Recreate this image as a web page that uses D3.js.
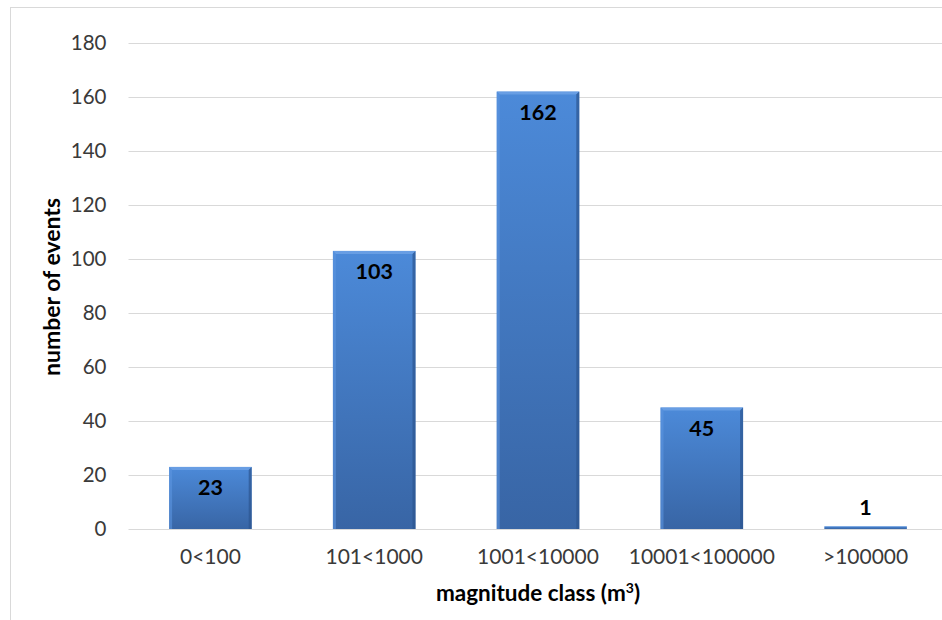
<!DOCTYPE html>
<html>
<head>
<meta charset="utf-8">
<script src="https://cdn.jsdelivr.net/npm/d3@7/dist/d3.min.js"></script>
<style>
  html, body { margin: 0; padding: 0; background: #fff; }
  svg { display: block; }
</style>
</head>
<body>
<div id="chart"></div>
<script>
// Landslide event counts by volume class
const categories = ["0<100", "101<1000", "1001<10000", "10001<100000", ">100000"];
const counts = [23, 103, 162, 45, 1];
const yTicks = [0, 20, 40, 60, 80, 100, 120, 140, 160, 180];

const W = 942, H = 620;
const margin = { left: 128.5, right: -5.5, top: 43, bottom: 91 };

const svg = d3.select("#chart").append("svg")
  .attr("width", W).attr("height", H);

const defs = svg.append("defs");
const grad = defs.append("linearGradient")
  .attr("id", "barFill").attr("x1", 0).attr("y1", 0).attr("x2", 0).attr("y2", 1);
grad.append("stop").attr("offset", "0%").attr("stop-color", "#4c8ad9");
grad.append("stop").attr("offset", "100%").attr("stop-color", "#3865a5");

// outer frame of the chart area
svg.append("rect")
  .attr("x", 10.5).attr("y", 7.5)
  .attr("width", W + 20).attr("height", H + 20)
  .attr("fill", "none").attr("stroke", "#d9d9d9").attr("stroke-width", 1);

const x = d3.scaleBand()
  .domain(categories)
  .range([margin.left, W - margin.right])
  .paddingInner(0.496).paddingOuter(0.248);

const y = d3.scaleLinear()
  .domain([0, 180])
  .range([H - margin.bottom, margin.top]);

// horizontal gridlines
svg.append("g")
  .selectAll("line")
  .data(yTicks)
  .join("line")
  .attr("x1", margin.left).attr("x2", W)
  .attr("y1", d => Math.round(y(d)) + 0.5)
  .attr("y2", d => Math.round(y(d)) + 0.5)
  .attr("stroke", "#d9d9d9").attr("stroke-width", 1.2);

// y axis tick labels
const yAxis = d3.axisLeft(y).tickValues(yTicks).tickSize(0).tickPadding(22);
const gy = svg.append("g")
  .attr("transform", `translate(${margin.left},0)`)
  .call(yAxis);
gy.select(".domain").remove();
gy.selectAll("text")
  .attr("font-family", "Lato, sans-serif")
  .attr("font-size", 20.5)
  .attr("fill", "#3a3a3a");

// x axis category labels
const xAxis = d3.axisBottom(x).tickSize(0).tickPadding(20);
const gx = svg.append("g")
  .attr("transform", `translate(0,${y(0)})`)
  .call(xAxis);
gx.select(".domain").remove();
gx.selectAll("text")
  .attr("font-family", "Lato, sans-serif")
  .attr("font-size", 21)
  .attr("fill", "#3a3a3a");

// bars with a soft bevel
const bars = svg.append("g").selectAll("g.bar")
  .data(categories.map((c, i) => ({ c, v: counts[i] })))
  .join("g").attr("class", "bar");

bars.append("rect")
  .attr("x", d => x(d.c))
  .attr("y", d => y(d.v))
  .attr("width", x.bandwidth())
  .attr("height", d => y(0) - y(d.v))
  .attr("fill", "url(#barFill)");

const bevel = 3;
// top highlight
bars.filter(d => y(0) - y(d.v) > 2 * bevel).append("path")
  .attr("d", d => {
    const x0 = x(d.c), x1 = x0 + x.bandwidth(), t = y(d.v);
    return `M${x0},${t}L${x1},${t}L${x1 - bevel},${t + bevel}L${x0 + bevel},${t + bevel}Z`;
  })
  .attr("fill", "#6fa3e6").attr("opacity", 0.8);
// left edge
bars.filter(d => y(0) - y(d.v) > 2 * bevel).append("path")
  .attr("d", d => {
    const x0 = x(d.c), t = y(d.v), b = y(0);
    return `M${x0},${t}L${x0 + bevel},${t + bevel}L${x0 + bevel},${b}L${x0},${b}Z`;
  })
  .attr("fill", "#5b95df").attr("opacity", 0.6);
// right edge
bars.filter(d => y(0) - y(d.v) > 2 * bevel).append("path")
  .attr("d", d => {
    const x1 = x(d.c) + x.bandwidth(), t = y(d.v), b = y(0);
    return `M${x1},${t}L${x1 - bevel},${t + bevel}L${x1 - bevel},${b}L${x1},${b}Z`;
  })
  .attr("fill", "#2c5590").attr("opacity", 0.7);

// value labels: inside the bar top, or above a bar too short to hold one
bars.append("text")
  .attr("x", d => x(d.c) + x.bandwidth() / 2)
  .attr("y", d => (y(0) - y(d.v) > 30) ? y(d.v) + 28 : y(d.v) - 11)
  .attr("text-anchor", "middle")
  .attr("font-family", "Lato, sans-serif")
  .attr("font-weight", "bold")
  .attr("font-size", 21.5)
  .attr("fill", "#000")
  .text(d => d.v);

// axis titles
svg.append("text")
  .attr("transform", `translate(60,287) rotate(-90)`)
  .attr("text-anchor", "middle")
  .attr("font-family", "Lato, sans-serif")
  .attr("font-weight", "bold")
  .attr("font-size", 23)
  .attr("fill", "#000")
  .text("number of events");

const xt = svg.append("text")
  .attr("x", 538).attr("y", 601)
  .attr("text-anchor", "middle")
  .attr("font-family", "Lato, sans-serif")
  .attr("font-weight", "bold")
  .attr("font-size", 22.5)
  .attr("fill", "#000");
xt.append("tspan").text("magnitude class (m");
xt.append("tspan").attr("font-size", 14).attr("dy", -8).text("3");
xt.append("tspan").attr("dy", 8).text(")");
</script>
</body>
</html>
